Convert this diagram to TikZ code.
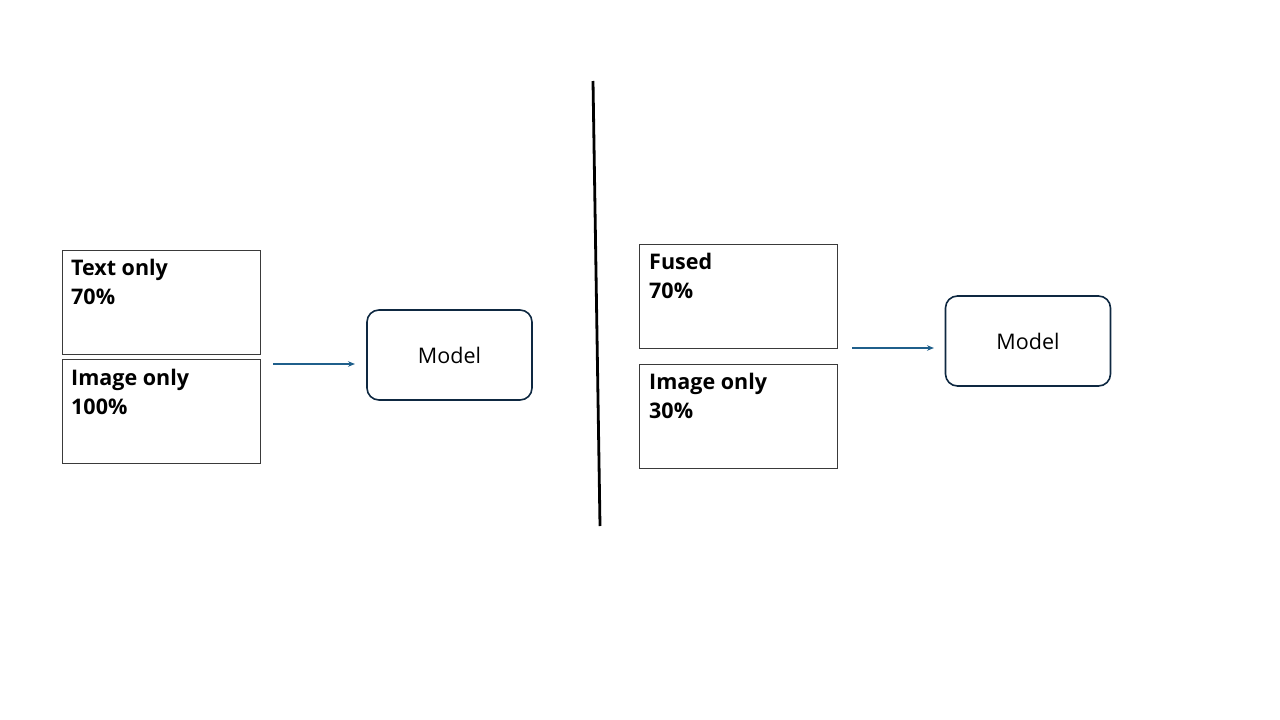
\documentclass[tikz,border=0pt]{standalone}
\usepackage{fontspec}
\setmainfont{Open Sans}
\usetikzlibrary{arrows.meta}
\definecolor{arrowblue}{HTML}{1F5F8B}
\definecolor{navy}{HTML}{0E2841}
\definecolor{boxgray}{HTML}{3A3A3A}
\tikzset{
  databox/.style={draw=boxgray, line width=0.9pt, minimum width=198pt, minimum height=104pt, inner sep=0pt},
  boxtext/.style={anchor=north west, inner sep=0pt, align=left, font=\fontsize{21.5}{28.5}\selectfont\bfseries},
  modelbox/.style={draw=navy, line width=1.6pt, rounded corners=12pt, minimum width=165pt, minimum height=90pt, font=\fontsize{21.5}{24}\selectfont},
  arr/.style={draw=arrowblue, line width=1.4pt, -{Stealth[length=7pt,width=5.5pt]}},
  divider/.style={draw=black, line width=2.8pt}
}
\begin{document}
\begin{tikzpicture}[x=1pt,y=-1pt]
\useasboundingbox (0,0) rectangle (1280,720);
% left
\node[databox] (t1) at (161,302) {};
\node[boxtext] (t1txt) at (71,259) {Text only\\70\%};
\node[databox] (i1) at (161,411.5) {};
\node[boxtext] (i1txt) at (71,369) {Image only\\100\%};
\node[modelbox] (m1) at (449.5,355) {Model};
\coordinate (a1s) at (273,364);
\coordinate (a1e) at (355,364);
\draw[arr] (a1s) -- (a1e);
% divider
\coordinate (d1) at (593,81);
\coordinate (d2) at (600,526);
\draw[divider] (d1) -- (d2);
% right
\node[databox] (f2) at (738.5,296) {};
\node[boxtext] (f2txt) at (649,253) {Fused\\70\%};
\node[databox] (i2) at (738.5,416) {};
\node[boxtext] (i2txt) at (649,373) {Image only\\30\%};
\node[modelbox] (m2) at (1028,341) {Model};
\coordinate (a2s) at (852,348);
\coordinate (a2e) at (934,348);
\draw[arr] (a2s) -- (a2e);
\end{tikzpicture}
\end{document}
